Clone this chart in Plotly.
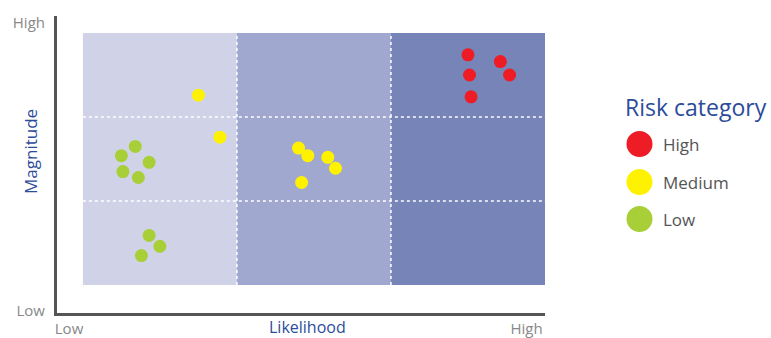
import plotly.graph_objects as go

# Risk matrix: likelihood (x, 0-3) vs magnitude (y, 0-3)
categories = ["High", "Medium", "Low"]
colors = ["#ee1c25", "#fff200", "#a8cf37"]

high_x = [2.50, 2.71, 2.51, 2.77, 2.52]
high_y = [2.74, 2.66, 2.50, 2.50, 2.24]

medium_x = [0.75, 0.89, 1.40, 1.46, 1.59, 1.64, 1.42]
medium_y = [2.26, 1.76, 1.63, 1.54, 1.52, 1.39, 1.22]

low_x = [0.34, 0.25, 0.43, 0.26, 0.36, 0.43, 0.50, 0.38]
low_y = [1.65, 1.54, 1.46, 1.35, 1.28, 0.59, 0.46, 0.35]

band_colors = ["#d0d3e8", "#a1a8d0", "#7784b8"]
axis_labels = ["Low", "High"]

FONT = "Open Sans"
TITLE_BLUE = "#2b4c9b"

fig = go.Figure()

series = [(high_x, high_y), (medium_x, medium_y), (low_x, low_y)]
for name, color, (xs, ys) in zip(categories, colors, series):
    fig.add_trace(go.Scatter(
        x=xs, y=ys, mode="markers", name=name,
        marker=dict(color=color, size=13, line=dict(width=0)),
        showlegend=False,
    ))

# Shaded likelihood bands
for i, c in enumerate(band_colors):
    fig.add_shape(type="rect", xref="x", yref="y", x0=i, x1=i + 1, y0=0, y1=3,
                  fillcolor=c, line=dict(width=0), layer="below")

# Dashed white grid inside the matrix
grid_line = dict(color="white", width=1.5, dash="3px,3px")
for v in [1, 2]:
    fig.add_shape(type="line", xref="x", yref="y", x0=v, x1=v, y0=0, y1=3,
                  line=grid_line, layer="below")
    fig.add_shape(type="line", xref="x", yref="y", x0=0, x1=3, y0=v, y1=v,
                  line=grid_line, layer="below")

# Legend block
px_w, px_h = 488.0, 297.0
def paper_x(px):
    return (px - 57) / px_w

def paper_y(py):
    return (313 - py) / px_h

fig.add_annotation(text="Risk category", xref="paper", yref="paper",
                   x=paper_x(623), y=paper_y(107), xanchor="left", yanchor="middle",
                   showarrow=False, font=dict(family=FONT, size=23, color=TITLE_BLUE))
for name, color, py in zip(categories, colors, [144, 182, 219]):
    fig.add_shape(type="circle", xref="paper", yref="paper",
                  xsizemode="pixel", ysizemode="pixel",
                  xanchor=paper_x(639.5), yanchor=paper_y(py),
                  x0=-13, x1=13, y0=-13, y1=13,
                  fillcolor=color, line=dict(width=0))
    fig.add_annotation(text=name, xref="paper", yref="paper",
                       x=paper_x(661), y=paper_y(py), xanchor="left", yanchor="middle",
                       showarrow=False, font=dict(family=FONT, size=17, color="#555555"))

# Axis titles
fig.add_annotation(text="Magnitude", xref="paper", yref="paper",
                   x=paper_x(30), y=paper_y(152), textangle=-90,
                   xanchor="center", yanchor="middle", showarrow=False,
                   font=dict(family=FONT, size=17, color=TITLE_BLUE))
fig.add_annotation(text="Likelihood", xref="paper", yref="paper",
                   x=paper_x(307), y=paper_y(327),
                   xanchor="center", yanchor="middle", showarrow=False,
                   font=dict(family=FONT, size=16, color=TITLE_BLUE))

fig.update_layout(
    template="none",
    width=771, height=338,
    margin=dict(l=57, r=226, t=16, b=25, autoexpand=False),
    paper_bgcolor="white", plot_bgcolor="white",
    font=dict(family=FONT, color="#888888", size=15),
    xaxis=dict(range=[-0.168, 3.0], showgrid=False, zeroline=False, automargin=False,
               showline=True, linecolor="#555555", linewidth=3,
               tickvals=[-0.09, 2.88], ticktext=axis_labels, ticks="",
               ticklabelstandoff=0,
               tickfont=dict(size=15, color="#888888")),
    yaxis=dict(range=[-0.333, 3.202], showgrid=False, zeroline=False, automargin=False,
               showline=True, linecolor="#555555", linewidth=3,
               tickvals=[-0.31, 3.12], ticktext=axis_labels, ticks="",
               ticklabelstandoff=6,
               tickfont=dict(size=15, color="#888888")),
    showlegend=False,
)

fig.write_html("out.html")
